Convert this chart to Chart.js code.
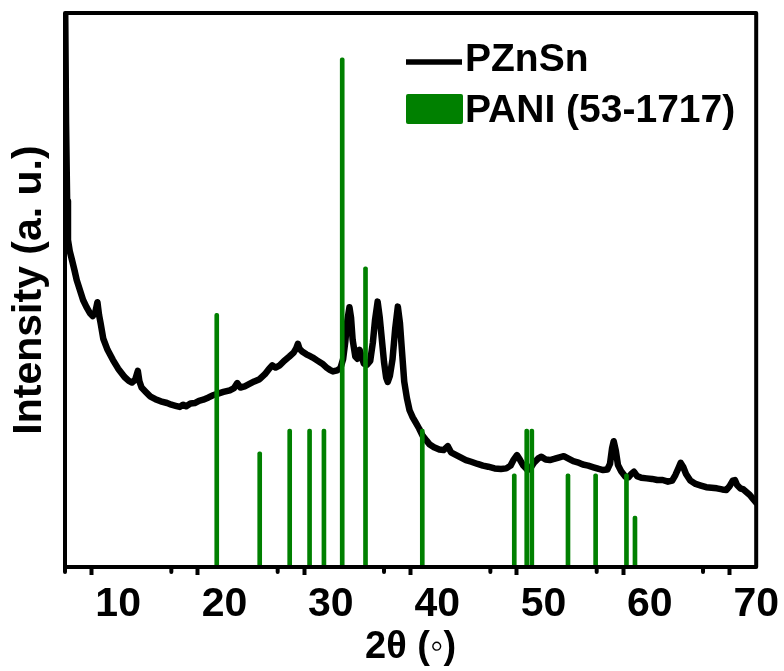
<!DOCTYPE html>
<html>
<head>
<meta charset="utf-8">
<script src="https://cdn.jsdelivr.net/npm/chart.js@4.4.1/dist/chart.umd.min.js"></script>
<style>
  html, body { margin: 0; padding: 0; background: #ffffff; }
  #wrap { width: 784px; height: 671px; }
</style>
</head>
<body>
<div id="wrap"><canvas id="xrd" width="784" height="671"></canvas></div>
<script>
// Measured XRD pattern of PZnSn (2θ in degrees, intensity in arbitrary units)
const twoTheta = [
  5.0, 5.1, 5.2, 5.28, 5.45, 5.66, 5.9, 6.1, 6.4, 6.7, 7.0, 7.35, 7.6, 7.85, 8.05, 8.2, 8.35, 8.6, 9.0, 9.5,
  10.0, 10.6, 11.0, 11.3, 11.6, 11.85, 12.0, 12.2, 12.6, 13.0, 13.5, 14.0, 14.6, 15.0, 15.4, 15.8, 16.1, 16.4, 16.8, 17.2,
  17.6, 18.0, 18.5, 18.9, 19.4, 19.9, 20.5, 20.9, 21.2, 21.5, 21.9, 22.3, 22.8, 23.3, 23.8, 24.2, 24.5, 24.8, 25.2, 25.6,
  26.1, 26.5, 26.75, 26.9, 27.05, 27.3, 27.7, 28.0, 28.3, 28.7, 29.2, 29.6, 29.9, 30.2, 30.6, 30.9, 31.15, 31.35, 31.55, 31.75,
  31.9, 32.05, 32.3, 32.5, 32.7, 32.9, 33.1, 33.4, 33.7, 33.95, 34.15, 34.4, 34.6, 34.8, 35.0, 35.2, 35.35, 35.55, 35.8, 36.05,
  36.3, 36.5, 36.65, 36.9, 37.15, 37.4, 37.7, 38.0, 38.3, 38.6, 39.0, 39.3, 39.7, 40.2, 40.6, 41.0, 41.3, 41.7, 42.2, 42.7,
  43.2, 43.8, 44.3, 44.8, 45.4, 46.0, 46.5, 46.9, 47.2, 47.5, 47.8, 48.1, 48.5, 48.8, 49.1, 49.5, 49.8, 50.2, 50.6, 51.0,
  51.5, 51.9, 52.3, 52.8, 53.2, 53.7, 54.2, 54.7, 55.2, 55.6, 56.0, 56.25, 56.45, 56.6, 56.8, 57.0, 57.3, 57.7, 58.0, 58.25,
  58.5, 58.8, 59.2, 59.7, 60.2, 60.7, 61.2, 61.7, 62.1, 62.4, 62.7, 62.9, 63.15, 63.4, 63.8, 64.3, 64.8, 65.3, 65.8, 66.3,
  66.8, 67.2, 67.5, 67.8, 68.0, 68.2, 68.5, 68.8, 69.1, 69.4, 69.7, 70.0
];
const intensity = [
  105, 80, 66, 59, 57, 55.4, 53.5, 51.8, 50, 48.2, 47, 45.8, 45.3, 46, 47.8, 45.5, 44, 41.2, 39.2, 37.4,
  35.8, 34.3, 33.6, 33.3, 33.8, 35.4, 33.5, 32.4, 31.6, 30.8, 30.3, 29.9, 29.6, 29.3, 29.1, 28.9, 29.3, 29.0, 29.5, 29.6,
  30.0, 30.2, 30.6, 31.0, 31.3, 31.6, 31.9, 32.3, 33.2, 32.4, 32.6, 33.0, 33.5, 33.9, 34.8, 35.8, 36.4, 36.0, 36.4, 37.2,
  38.0, 38.7, 39.5, 40.3, 39.4, 38.9, 38.4, 38.1, 37.8, 37.3, 36.7, 36.0, 35.6, 35.3, 35.5, 35.9, 37.5, 40.5, 44.5, 46.9,
  45.0, 41.0, 38.0, 37.6, 39.2, 38.0, 36.7, 36.5, 37.2, 40.5, 44.5, 47.9, 45.0, 41.0, 37.0, 34.2, 33.4, 34.5, 37.5, 43.0,
  47.0, 44.0, 40.0, 33.5, 30.5, 28.3, 27.0, 26.0, 25.0, 23.8, 22.8, 22.1, 21.6, 21.2, 21.1, 21.8, 20.7, 20.3, 19.8, 19.3,
  19.0, 18.6, 18.3, 18.1, 17.8, 17.7, 17.8, 18.3, 19.4, 20.2, 19.3, 18.3, 17.5, 17.9, 18.8, 19.6, 19.9, 19.4, 19.3, 19.5,
  19.8, 20.0, 19.6, 19.1, 18.9, 18.5, 18.3, 18.0, 17.7, 17.5, 17.6, 18.6, 21.5, 22.7, 21.0, 18.4, 17.3, 16.3, 16.2, 16.8,
  17.2, 16.4, 16.1, 16.0, 15.9, 15.7, 15.7, 15.4, 15.6, 16.6, 17.9, 18.8, 18.0, 16.8, 15.6, 15.0, 14.7, 14.4, 14.3, 14.2,
  14.0, 13.9, 14.6, 15.6, 15.7, 14.8, 14.2, 14.0, 13.5, 13.0, 12.3, 11.6
];

// Reference card PANI (53-1717): line positions and relative heights
const refTwoTheta = [19.27, 23.31, 26.13, 28.0, 29.35, 31.07, 33.26, 38.6, 47.25, 48.42, 48.9, 52.3, 54.9, 57.8, 58.6];
const refHeight   = [45.8, 20.8, 24.9, 24.9, 24.9, 91.9, 54.2, 24.9, 16.8, 24.9, 24.9, 16.8, 16.8, 16.8, 9.2];

// Labelled 2θ ticks (the in-between ticks are drawn as minor ticks)
const xTickLabels = [10, 20, 30, 40, 50, 60, 70];

const seriesNames = ['PZnSn', 'PANI (53-1717)'];
const FONT = "'Liberation Sans', Arial, sans-serif";
const GREEN = '#008000';

const pattern = twoTheta.map((t, i) => ({ x: t, y: intensity[i] }));
const sticks = refTwoTheta.map((t, i) => ({ x: t, y: refHeight[i] }));

// Frame around the plot, short minor ticks and the legend block
const decorations = {
  id: 'decorations',
  afterDraw(chart) {
    const { ctx, chartArea: a, scales: { x } } = chart;
    ctx.save();
    // minor ticks
    ctx.strokeStyle = '#000';
    ctx.lineWidth = 4;
    ctx.lineCap = 'round';
    x.ticks.forEach(t => {
      if (xTickLabels.includes(t.value)) return;
      const px = x.getPixelForValue(t.value);
      ctx.beginPath();
      ctx.moveTo(px, a.bottom);
      ctx.lineTo(px, a.bottom + 5);
      ctx.stroke();
    });
    // box
    ctx.lineJoin = 'round';
    ctx.strokeRect(a.left, a.top, a.right - a.left, a.bottom - a.top);

    // legend
    const lx = a.left + 341;
    const [lineSet, stickSet] = chart.data.datasets;
    ctx.font = 'bold 39px ' + FONT;
    ctx.fillStyle = '#000';
    ctx.textBaseline = 'alphabetic';
    ctx.textAlign = 'left';
    ctx.strokeStyle = lineSet.borderColor;
    ctx.lineWidth = 5.5;
    ctx.lineCap = 'butt';
    ctx.beginPath();
    ctx.moveTo(lx, a.top + 49);
    ctx.lineTo(lx + 56, a.top + 49);
    ctx.stroke();
    ctx.fillText(lineSet.label, lx + 59, a.top + 58);
    ctx.fillStyle = stickSet.backgroundColor;
    ctx.beginPath();
    ctx.roundRect(lx, a.top + 81, 57, 30, 2);
    ctx.fill();
    ctx.fillStyle = '#000';
    ctx.fillText(stickSet.label, lx + 59, a.top + 109);
    ctx.restore();
  }
};

new Chart(document.getElementById('xrd'), {
  type: 'line',
  data: {
    datasets: [
      {
        type: 'line',
        label: seriesNames[0],
        data: pattern,
        borderColor: '#000000',
        backgroundColor: '#000000',
        borderWidth: 6.5,
        pointRadius: 0,
        tension: 0,
        borderJoinStyle: 'round',
        borderCapStyle: 'round',
        order: 2
      },
      {
        type: 'bar',
        label: seriesNames[1],
        data: sticks,
        backgroundColor: GREEN,
        borderWidth: 0,
        barThickness: 4,
        borderRadius: 2,
        order: 1
      }
    ]
  },
  options: {
    responsive: false,
    animation: false,
    devicePixelRatio: 1,
    layout: { padding: { top: 13, right: 27, bottom: 0, left: 0 } },
    plugins: { legend: { display: false }, tooltip: { enabled: false } },
    scales: {
      x: {
        type: 'linear',
        min: 5,
        max: 70,
        offset: false,
        afterFit: s => { s.height = 104; },
        border: { display: false },
        grid: {
          drawOnChartArea: false,
          drawTicks: true,
          tickLength: 8,
          tickWidth: 4,
          tickColor: c => xTickLabels.includes(c.tick && c.tick.value) ? '#000' : 'rgba(0,0,0,0)'
        },
        ticks: {
          stepSize: 5,
          autoSkip: false,
          maxRotation: 0,
          padding: 5,
          color: '#000',
          font: { family: FONT, size: 41, weight: 'bold' },
          callback: v => xTickLabels.includes(v) ? String(v) : ''
        },
        title: {
          display: true,
          text: '2θ (◦)',
          color: '#000',
          font: { family: FONT, size: 38, weight: 'bold' },
          padding: { top: 0, bottom: 1 }
        }
      },
      y: {
        type: 'linear',
        min: 0,
        max: 100,
        afterFit: s => { s.width = 65; },
        border: { display: false },
        grid: { display: false },
        ticks: { display: false },
        title: {
          display: true,
          text: 'Intensity (a. u.)',
          color: '#000',
          font: { family: FONT, size: 41, weight: 'bold' },
          padding: { top: 5, bottom: 0 }
        }
      }
    }
  },
  plugins: [decorations]
});
</script>
</body>
</html>
